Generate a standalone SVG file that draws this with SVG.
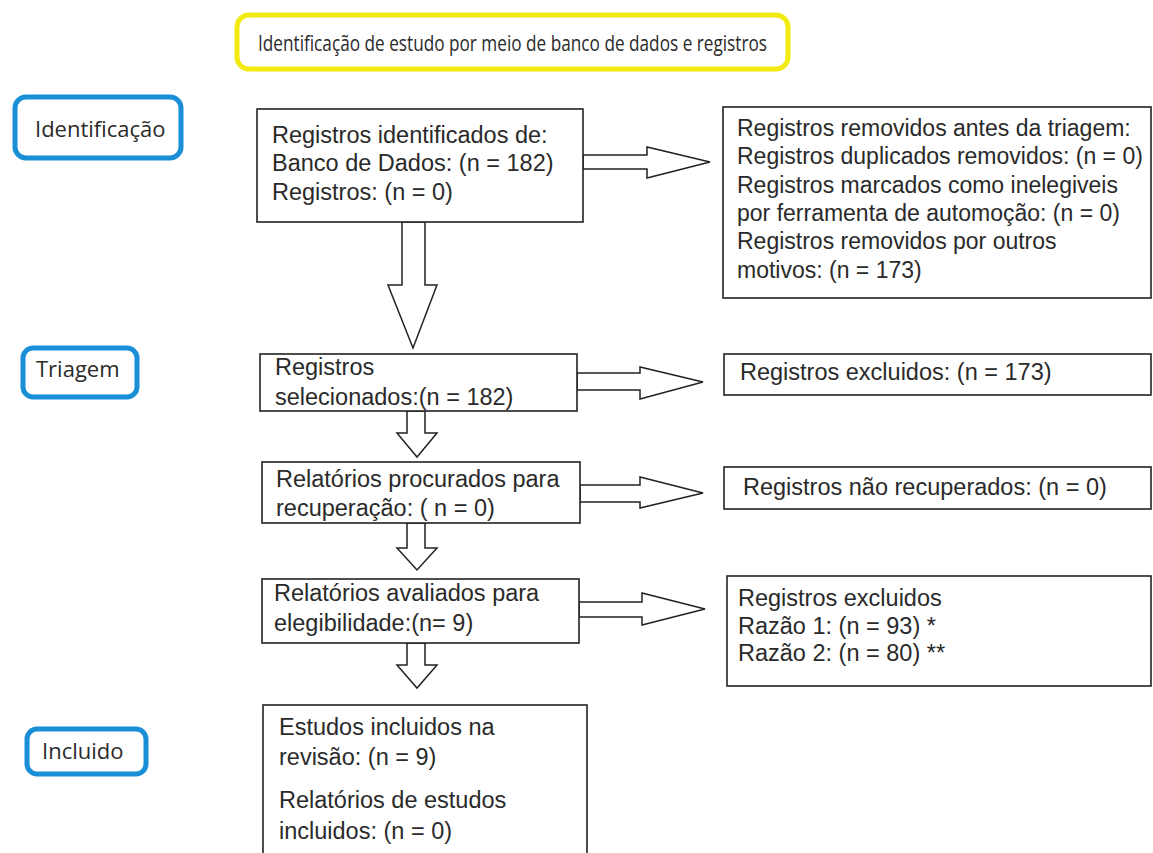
<svg xmlns="http://www.w3.org/2000/svg" width="1153" height="853" viewBox="0 0 1153 853">
<style>
text{font-family:"Liberation Sans",Arial,sans-serif;font-size:23.5px;fill:#2a2a2a}
.t{font-family:"Open Sans","Liberation Sans",sans-serif;font-size:21px}
.l{font-family:"Open Sans","Liberation Sans",sans-serif;font-size:22px}
.r{font-size:23px}
.box{fill:#fff;stroke:#222;stroke-width:1.6}
.lbl{fill:#fff;stroke:#1a8fd8;stroke-width:5}
.ttl{fill:#fff;stroke:#f2ea10;stroke-width:5}
.arr{fill:#fff;stroke:#222;stroke-width:1.5;stroke-linejoin:miter}
</style>
<rect width="1153" height="853" fill="#fff"/>
<g id="title"><rect class="ttl" x="237" y="15" width="551" height="54" rx="12"/><text class="t" x="258" y="51" textLength="509" lengthAdjust="spacingAndGlyphs">Identificação de estudo por meio de banco de dados e registros</text></g>
<g id="lbl-identificacao"><rect class="lbl" x="15" y="97" width="166" height="61" rx="11"/><text class="l" x="35" y="137">Identificação</text></g>
<g id="lbl-triagem"><rect class="lbl" x="23" y="348" width="114" height="49" rx="10"/><text class="l" x="36" y="377">Triagem</text></g>
<g id="lbl-incluido"><rect class="lbl" x="27" y="729" width="119" height="45" rx="10"/><text class="l" x="42" y="759">Incluido</text></g>
<g id="connectors">
<polygon class="arr" points="402,222 425,222 425,285 437,285 413,348 388,285 402,285"/>
<polygon class="arr" points="583,155 647,155 647,147 710,162 647,178 647,169 583,169"/>
<polygon class="arr" points="577,373 640,373 640,367 703,382 640,399 640,390 577,390"/>
<polygon class="arr" points="580,485 640,485 640,477 703,493 640,508 640,502 580,502"/>
<polygon class="arr" points="579,602 642,602 642,593 705,609 642,625 642,617 579,617"/>
<polygon class="arr" points="407,411 425,411 425,433 437,433 417,457 397,433 407,433"/>
<polygon class="arr" points="407,523 425,523 425,548 437,548 417,570 397,548 407,548"/>
<polygon class="arr" points="407,643 425,643 425,665 437,665 417,688 397,665 407,665"/>
</g>
<g id="n-identificados"><rect class="box" x="257" y="109" width="326" height="113"/>
<text x="272" y="143">Registros identificados de:</text>
<text x="272" y="171">Banco de Dados: (n = 182)</text>
<text x="272" y="200">Registros: (n = 0)</text></g>
<g id="n-removidos"><rect class="box" x="723" y="107" width="428" height="191"/>
<text class="r" x="737" y="136">Registros removidos antes da triagem:</text>
<text class="r" x="737" y="164">Registros duplicados removidos: (n = 0)</text>
<text class="r" x="737" y="193">Registros marcados como inelegiveis</text>
<text class="r" x="737" y="221">por ferramenta de automoção: (n = 0)</text>
<text class="r" x="737" y="249">Registros removidos por outros</text>
<text class="r" x="737" y="278">motivos: (n = 173)</text></g>
<g id="n-selecionados"><rect class="box" x="260" y="354" width="317" height="57"/>
<text x="275" y="375">Registros</text>
<text x="275" y="405">selecionados:(n = 182)</text></g>
<g id="n-excluidos1"><rect class="box" x="724" y="354" width="427" height="41"/>
<text x="740" y="380">Registros excluidos: (n = 173)</text></g>
<g id="n-procurados"><rect class="box" x="262" y="462" width="318" height="61"/>
<text x="276" y="487">Relatórios procurados para</text>
<text x="276" y="516">recuperação: ( n = 0)</text></g>
<g id="n-naorecuperados"><rect class="box" x="724" y="467" width="427" height="42"/>
<text x="743" y="495">Registros não recuperados: (n = 0)</text></g>
<g id="n-avaliados"><rect class="box" x="262" y="579" width="317" height="64"/>
<text x="274" y="601">Relatórios avaliados para</text>
<text x="274" y="631">elegibilidade:(n= 9)</text></g>
<g id="n-excluidos2"><rect class="box" x="727" y="576" width="424" height="110"/>
<text x="738" y="606">Registros excluidos</text>
<text x="738" y="634">Razão 1: (n = 93)  *</text>
<text x="738" y="661">Razão 2: (n = 80)  **</text></g>
<g id="n-incluidos"><rect class="box" x="263" y="705" width="324" height="160"/>
<text x="279" y="735">Estudos incluidos na</text>
<text x="279" y="765">revisão: (n = 9)</text>
<text x="279" y="808">Relatórios de estudos</text>
<text x="279" y="839">incluidos: (n = 0)</text></g>
</svg>
